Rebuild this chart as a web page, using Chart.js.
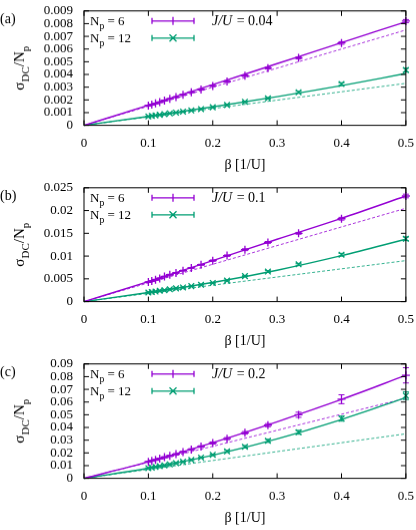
<!DOCTYPE html>
<html><head><meta charset="utf-8">
<script src="https://cdn.jsdelivr.net/npm/chart.js@4"></script>
<style>body{margin:0;background:#fff;font-family:'Liberation Serif',serif}.p{width:416px;height:176.6px;position:relative}</style>
</head><body>
<div class="p"><canvas id="c0"></canvas></div>
<div class="p"><canvas id="c1"></canvas></div>
<div class="p"><canvas id="c2"></canvas></div>
<script>
const beta=[0.1,0.1053,0.1111,0.1176,0.125,0.1333,0.1429,0.1538,0.1667,0.1818,0.2,0.2222,0.25,0.2857,0.3333,0.4,0.5];
const fitX=[0,0.1,0.2,0.3,0.4,0.5];
const panelLabels=["(a)","(b)","(c)"];
const jLabels=["J/U = 0.04","J/U = 0.1","J/U = 0.2"];
const yMax=[0.009,0.025,0.09];
const yStep=[0.001,0.005,0.01];
// N_p = 6
const n6=[
[0.00155,0.00163,0.00172,0.00182,0.00195,0.00208,0.00222,0.00240,0.00260,0.00282,0.00310,0.00345,0.00390,0.00450,0.00530,0.00648,0.00820],
[0.0043,0.0045,0.0048,0.0051,0.0055,0.0059,0.0063,0.0068,0.0074,0.0081,0.0090,0.0101,0.0114,0.0130,0.0150,0.0182,0.0232],
[0.0130,0.0138,0.0145,0.0155,0.0166,0.0177,0.0190,0.0207,0.0227,0.0250,0.0278,0.0312,0.0358,0.0418,0.0500,0.0622,0.0810]];
const n6err=[
[0.00003,0.00003,0.00003,0.00003,0.00003,0.00003,0.00004,0.00004,0.00004,0.00005,0.00005,0.00006,0.00006,0.00007,0.00008,0.0001,0.00012],
[0.0001,0.0001,0.0001,0.0001,0.0001,0.0001,0.0001,0.0001,0.0001,0.0001,0.00015,0.00015,0.0002,0.0002,0.0002,0.0003,0.0004],
[0.0004,0.0004,0.0004,0.0004,0.0005,0.0005,0.0005,0.0005,0.0006,0.0006,0.0008,0.0008,0.0010,0.0012,0.0020,0.0035,0.0060]];
// N_p = 12
const n12=[
[0.00070,0.00074,0.00078,0.00083,0.00088,0.00094,0.00100,0.00108,0.00117,0.00128,0.00142,0.00160,0.00185,0.00212,0.00260,0.00325,0.00435],
[0.0020,0.0021,0.0022,0.0024,0.0025,0.0027,0.0029,0.0031,0.0034,0.0037,0.0041,0.0046,0.0056,0.0066,0.0082,0.0103,0.0138],
[0.0080,0.0085,0.0090,0.0096,0.0102,0.0110,0.0119,0.0130,0.0145,0.0163,0.0185,0.0212,0.0248,0.0295,0.0362,0.0470,0.0650]];
const n12err=[
[0.00002,0.00002,0.00002,0.00002,0.00002,0.00002,0.00002,0.00003,0.00003,0.00003,0.00003,0.00004,0.00005,0.00006,0.00008,0.0001,0.00015],
[0.0001,0.0001,0.0001,0.0001,0.0001,0.0001,0.0001,0.0001,0.0001,0.0001,0.0001,0.0001,0.0001,0.0002,0.0002,0.0003,0.0004],
[0.0003,0.0003,0.0003,0.0003,0.0004,0.0004,0.0004,0.0004,0.0005,0.0005,0.0006,0.0008,0.0010,0.0012,0.0015,0.0020,0.0030]];
const fit6=[[0,0.00158,0.00320,0.00485,0.00650,0.00815],[0,0.0044,0.0090,0.0137,0.0183,0.0232],[0,0.0130,0.0280,0.0445,0.0620,0.0810]];
const fit12=[[0,0.00070,0.00145,0.00225,0.00312,0.00408],[0,0.0020,0.0042,0.0069,0.0101,0.0137],[0,0.0080,0.0182,0.0310,0.0462,0.0635]];
const dash6=[0.0075,0.0205,0.063];
const dash12=[0.0033,0.009,0.035];

const PUR='#9400D3', GRN='#009E73', FONT="'Liberation Serif', 'DejaVu Serif', serif";

function sub(ctx,x,y,main,s,rest,size){
  ctx.font=size+'px '+FONT;ctx.fillText(main,x,y);let w=ctx.measureText(main).width;
  ctx.font=(size*0.75)+'px '+FONT;ctx.fillText(s,x+w,y+4);w+=ctx.measureText(s).width;
  ctx.font=size+'px '+FONT;ctx.fillText(rest,x+w,y);return w+ctx.measureText(rest).width;
}
function makePlugin(i){return{id:'extra'+i,
 afterDatasetsDraw(chart){
  const ctx=chart.ctx,xs=chart.scales.x,ys=chart.scales.y,a=chart.chartArea;
  ctx.save();
  [[n6[i],n6err[i],PUR],[n12[i],n12err[i],GRN]].forEach(([v,e,c])=>{
   ctx.strokeStyle=c;ctx.lineWidth=1;
   beta.forEach((b,k)=>{const x=xs.getPixelForValue(b),y1=ys.getPixelForValue(v[k]-e[k]),y2=ys.getPixelForValue(v[k]+e[k]);
    ctx.beginPath();ctx.moveTo(x,y1);ctx.lineTo(x,y2);ctx.moveTo(x-3,y1);ctx.lineTo(x+3,y1);ctx.moveTo(x-3,y2);ctx.lineTo(x+3,y2);ctx.stroke();});
  });
  ctx.strokeStyle='#000';ctx.lineWidth=1;ctx.strokeRect(a.left,a.top,a.right-a.left,a.bottom-a.top);
  ctx.beginPath();
  for(let t=0;t<=0.5001;t+=0.1){const x=xs.getPixelForValue(t);ctx.moveTo(x,a.bottom);ctx.lineTo(x,a.bottom-5);ctx.moveTo(x,a.top);ctx.lineTo(x,a.top+5);}
  for(let t=0;t<=yMax[i]*1.0001;t+=yStep[i]){const y=ys.getPixelForValue(t);ctx.moveTo(a.left,y);ctx.lineTo(a.left+5,y);ctx.moveTo(a.right,y);ctx.lineTo(a.right-5,y);}
  ctx.stroke();
  ctx.fillStyle='#000';ctx.textBaseline='alphabetic';
  sub(ctx,a.left+6,a.top+14,'N','p',' = 6',13);
  sub(ctx,a.left+6,a.top+31,'N','p',' = 12',13);
  [[PUR,a.top+10,'cross'],[GRN,a.top+27,'crossRot']].forEach(([c,y,m])=>{
   const x1=a.left+68,x2=a.left+110,xm=(x1+x2)/2;ctx.strokeStyle=c;ctx.lineWidth=1.3;
   ctx.beginPath();ctx.moveTo(x1,y);ctx.lineTo(x2,y);ctx.moveTo(x1,y-3);ctx.lineTo(x1,y+3);ctx.moveTo(x2,y-3);ctx.lineTo(x2,y+3);
   if(m==='cross'){ctx.moveTo(xm,y-4);ctx.lineTo(xm,y+4);}else{ctx.moveTo(xm-3.5,y-3.5);ctx.lineTo(xm+3.5,y+3.5);ctx.moveTo(xm-3.5,y+3.5);ctx.lineTo(xm+3.5,y-3.5);}
   ctx.stroke();});
  ctx.font='italic 14px '+FONT;ctx.fillText('J/U',a.left+128,a.top+14);
  const jw=ctx.measureText('J/U').width;
  ctx.font='14px '+FONT;ctx.fillText(' = '+jLabels[i].split(' = ')[1],a.left+128+jw+1,a.top+14);
  ctx.font='14px '+FONT;ctx.fillText(panelLabels[i],0,a.top+12);
  ctx.save();ctx.translate(24,(a.top+a.bottom)/2);ctx.rotate(-Math.PI/2);
  ctx.font='15px '+FONT;const w1=ctx.measureText('σ').width;ctx.font='11px '+FONT;const w2=ctx.measureText('DC').width;ctx.font='15px '+FONT;const w3=ctx.measureText('/N').width;ctx.font='11px '+FONT;const w4=ctx.measureText('p').width;
  let x=-(w1+w2+w3+w4)/2;ctx.font='15px '+FONT;ctx.fillText('σ',x,0);x+=w1;ctx.font='11px '+FONT;ctx.fillText('DC',x,5);x+=w2;ctx.font='15px '+FONT;ctx.fillText('/N',x,0);x+=w3;ctx.font='11px '+FONT;ctx.fillText('p',x,5);
  ctx.restore();
  ctx.restore();
 }};}
for(let i=0;i<3;i++){
 const pts=(v)=>beta.map((b,k)=>({x:b,y:v[k]}));
 new Chart(document.getElementById('c'+i),{type:'scatter',
  data:{datasets:[
   {data:fitX.map((x,k)=>({x,y:fit6[i][k]})),showLine:true,pointRadius:0,borderColor:PUR,borderWidth:1.4,cubicInterpolationMode:'monotone'},
   {data:fitX.map((x,k)=>({x,y:fit12[i][k]})),showLine:true,pointRadius:0,borderColor:GRN,borderWidth:1.4,cubicInterpolationMode:'monotone'},
   {data:[{x:0,y:0},{x:0.5,y:dash6[i]}],showLine:true,pointRadius:0,borderColor:PUR,borderWidth:0.8,borderDash:[3,2]},
   {data:[{x:0,y:0},{x:0.5,y:dash12[i]}],showLine:true,pointRadius:0,borderColor:GRN,borderWidth:0.8,borderDash:[3,2]},
   {data:pts(n6[i]),pointStyle:'cross',pointRadius:4,borderColor:PUR,borderWidth:1.3},
   {data:pts(n12[i]),pointStyle:'crossRot',pointRadius:4,borderColor:GRN,borderWidth:1.3}]},
  options:{responsive:true,maintainAspectRatio:false,animation:false,clip:false,
   layout:{padding:{left:0,right:8,top:4,bottom:0}},
   plugins:{legend:{display:false},tooltip:{enabled:false}},
   scales:{
    x:{type:'linear',min:0,max:0.5,grid:{display:false},border:{display:false},
     ticks:{stepSize:0.1,autoSkip:false,maxRotation:0,color:'#000',font:{family:FONT,size:13},padding:2,callback:v=>String(+v.toFixed(2))},
     title:{display:true,text:'β [1/U]',color:'#000',font:{family:FONT,size:14},padding:{top:4}},
     afterFit:s=>{s.height=52;}},
    y:{min:0,max:yMax[i],grid:{display:false},border:{display:false},
     ticks:{stepSize:yStep[i],autoSkip:false,color:'#000',font:{family:FONT,size:13},padding:3,callback:v=>String(+v.toFixed(4))},
     afterFit:s=>{s.width=84;}}}},
  plugins:[makePlugin(i)]});
}
</script></body></html>
